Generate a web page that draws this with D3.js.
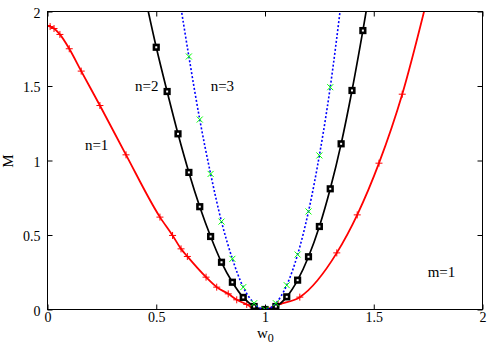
<!DOCTYPE html>
<html>
<head>
<meta charset="utf-8">
<script src="https://cdn.jsdelivr.net/npm/d3@7"></script>
<style>
  body { margin: 0; background: #fff; }
  text { font-family: "Liberation Serif", "Times New Roman", serif; }
</style>
</head>
<body>
<div id="chart"></div>
<script>
var width = 500;
var height = 350;

// n=1 (red, + markers)
var w1 = [0, 0.012, 0.03, 0.057, 0.10, 0.155, 0.241, 0.361, 0.517, 0.575, 0.614, 0.643, 0.729, 0.778, 0.831, 0.87, 0.916, 0.945, 1.0, 1.06, 1.16, 1.33, 1.424, 1.524, 1.631, 1.75];
var m1 = [1.906, 1.899, 1.886, 1.846, 1.75, 1.60, 1.369, 1.038, 0.62, 0.497, 0.407, 0.356, 0.217, 0.15, 0.105, 0.065, 0.034, 0.011, 0.0, 0.034, 0.083, 0.38, 0.635, 0.982, 1.445, 2.11];

// n=2 (black, squares)
var w2 = [0.45, 0.5, 0.55, 0.6, 0.65, 0.7, 0.75, 0.8, 0.85, 0.9, 0.95, 1.0, 1.05, 1.1, 1.15, 1.2, 1.25, 1.3, 1.35, 1.4, 1.45, 1.5];
var m2 = [2.09, 1.76, 1.463, 1.179, 0.92, 0.69, 0.49, 0.317, 0.183, 0.081, 0.02, 0.0, 0.02, 0.085, 0.197, 0.354, 0.557, 0.81, 1.112, 1.47, 1.872, 2.3];

// n=3 (blue dotted, green x markers)
var w3 = [0.6, 0.65, 0.7, 0.75, 0.8, 0.85, 0.9, 0.95, 1.0, 1.05, 1.1, 1.15, 1.2, 1.25, 1.3, 1.35];
var m3 = [2.15, 1.698, 1.275, 0.91, 0.59, 0.34, 0.15, 0.042, 0.0, 0.042, 0.163, 0.369, 0.658, 1.034, 1.492, 2.06];

var xTicks = [0, 0.5, 1, 1.5, 2];
var yTicks = [0, 0.5, 1, 1.5, 2];

var labelText = ["n=1", "n=2", "n=3", "m=1"];
var labelW = [0.172, 0.402, 0.750, 1.748];
var labelM = [1.07, 1.468, 1.468, 0.216];

var margin = {left: 47.5, right: 17.5, top: 11.5, bottom: 40.5};

var svg = d3.select("#chart").append("svg")
    .attr("width", width).attr("height", height);

var x = d3.scaleLinear().domain([0, 2]).range([margin.left, width - margin.right]);
var y = d3.scaleLinear().domain([0, 2]).range([height - margin.bottom, margin.top]);

svg.append("clipPath").attr("id", "plotclip")
  .append("rect")
    .attr("x", x(0)).attr("y", y(2))
    .attr("width", x(2) - x(0)).attr("height", y(0) - y(2));

function pairs(xs, ys) {
  return xs.map(function(d, i) { return [d, ys[i]]; });
}
var s1 = pairs(w1, m1), s2 = pairs(w2, m2), s3 = pairs(w3, m3);

var line = d3.line()
    .curve(d3.curveMonotoneX)
    .x(function(d) { return x(d[0]); })
    .y(function(d) { return y(d[1]); });

var plot = svg.append("g").attr("clip-path", "url(#plotclip)");

// red n=1
plot.append("path").datum(s1)
    .attr("fill", "none").attr("stroke", "#ff0000").attr("stroke-width", 1.8)
    .attr("d", line);
plot.selectAll(".p1").data(s1).enter().append("path")
    .attr("class", "p1")
    .attr("stroke", "#ff0000").attr("stroke-width", 1)
    .attr("d", function(d) {
      var cx = x(d[0]), cy = y(d[1]);
      return "M" + (cx - 3.5) + "," + cy + "H" + (cx + 3.5) + "M" + cx + "," + (cy - 3.5) + "V" + (cy + 3.5);
    });

// black n=2
plot.append("path").datum(s2)
    .attr("fill", "none").attr("stroke", "#000").attr("stroke-width", 1.7)
    .attr("d", line);
plot.selectAll(".p2").data(s2).enter().append("rect")
    .attr("class", "p2")
    .attr("x", function(d) { return x(d[0]) - 2.3; })
    .attr("y", function(d) { return y(d[1]) - 2.3; })
    .attr("width", 4.6).attr("height", 4.6)
    .attr("fill", "#fff").attr("stroke", "#000").attr("stroke-width", 2.6);

// blue n=3
plot.append("path").datum(s3)
    .attr("fill", "none").attr("stroke", "#0000ff").attr("stroke-width", 1.6)
    .attr("stroke-dasharray", "2,2")
    .attr("d", line);
plot.selectAll(".p3").data(s3).enter().append("path")
    .attr("class", "p3")
    .attr("stroke", "#00ff00").attr("stroke-width", 1)
    .attr("fill", "none")
    .attr("d", function(d) {
      var cx = x(d[0]), cy = y(d[1]), r = 3;
      return "M" + (cx - r) + "," + (cy - r) + "L" + (cx + r) + "," + (cy + r) +
             "M" + (cx - r) + "," + (cy + r) + "L" + (cx + r) + "," + (cy - r);
    });

// axes with inward ticks on all four sides
var fmt = function(d) { return String(d); };
var xb = svg.append("g").attr("transform", "translate(0," + y(0) + ")")
    .call(d3.axisBottom(x).tickValues(xTicks).tickFormat(fmt).tickSizeInner(-5).tickSizeOuter(0).tickPadding(2.5));
var xt = svg.append("g").attr("transform", "translate(0," + y(2) + ")")
    .call(d3.axisTop(x).tickValues(xTicks).tickFormat("").tickSizeInner(-5).tickSizeOuter(0));
var yl = svg.append("g").attr("transform", "translate(" + x(0) + ",0)")
    .call(d3.axisLeft(y).tickValues(yTicks).tickFormat(fmt).tickSizeInner(-5).tickSizeOuter(0).tickPadding(7));
var yr = svg.append("g").attr("transform", "translate(" + x(2) + ",0)")
    .call(d3.axisRight(y).tickValues(yTicks).tickFormat("").tickSizeInner(-5).tickSizeOuter(0));

[xb, xt, yl, yr].forEach(function(a) {
  a.select(".domain").remove();
  a.selectAll("line").attr("stroke", "#000");
  a.selectAll("text").attr("fill", "#000")
    .style("font-family", "'Liberation Serif', serif").style("font-size", "14px");
});
yl.selectAll("text").attr("dy", "0.42em");

svg.append("rect")
    .attr("x", x(0)).attr("y", y(2))
    .attr("width", x(2) - x(0)).attr("height", y(0) - y(2))
    .attr("fill", "none").attr("stroke", "#000").attr("stroke-width", 1);

// curve labels
svg.selectAll(".lbl").data(labelText).enter().append("text")
    .attr("class", "lbl")
    .attr("x", function(d, i) { return x(labelW[i]); })
    .attr("y", function(d, i) { return y(labelM[i]); })
    .style("font-size", "15px")
    .text(function(d) { return d; });

// axis titles
var xl = svg.append("text")
    .attr("x", (x(0) + x(2)) / 2 - 8).attr("y", 338)
    .style("font-size", "15px")
    .text("w");
xl.append("tspan").attr("dy", 4).style("font-size", "12px").text("0");

svg.append("text")
    .attr("transform", "translate(13," + (y(1) + 0.5) + ") rotate(-90)")
    .attr("text-anchor", "middle")
    .style("font-size", "15px")
    .text("M");
</script>
</body>
</html>
